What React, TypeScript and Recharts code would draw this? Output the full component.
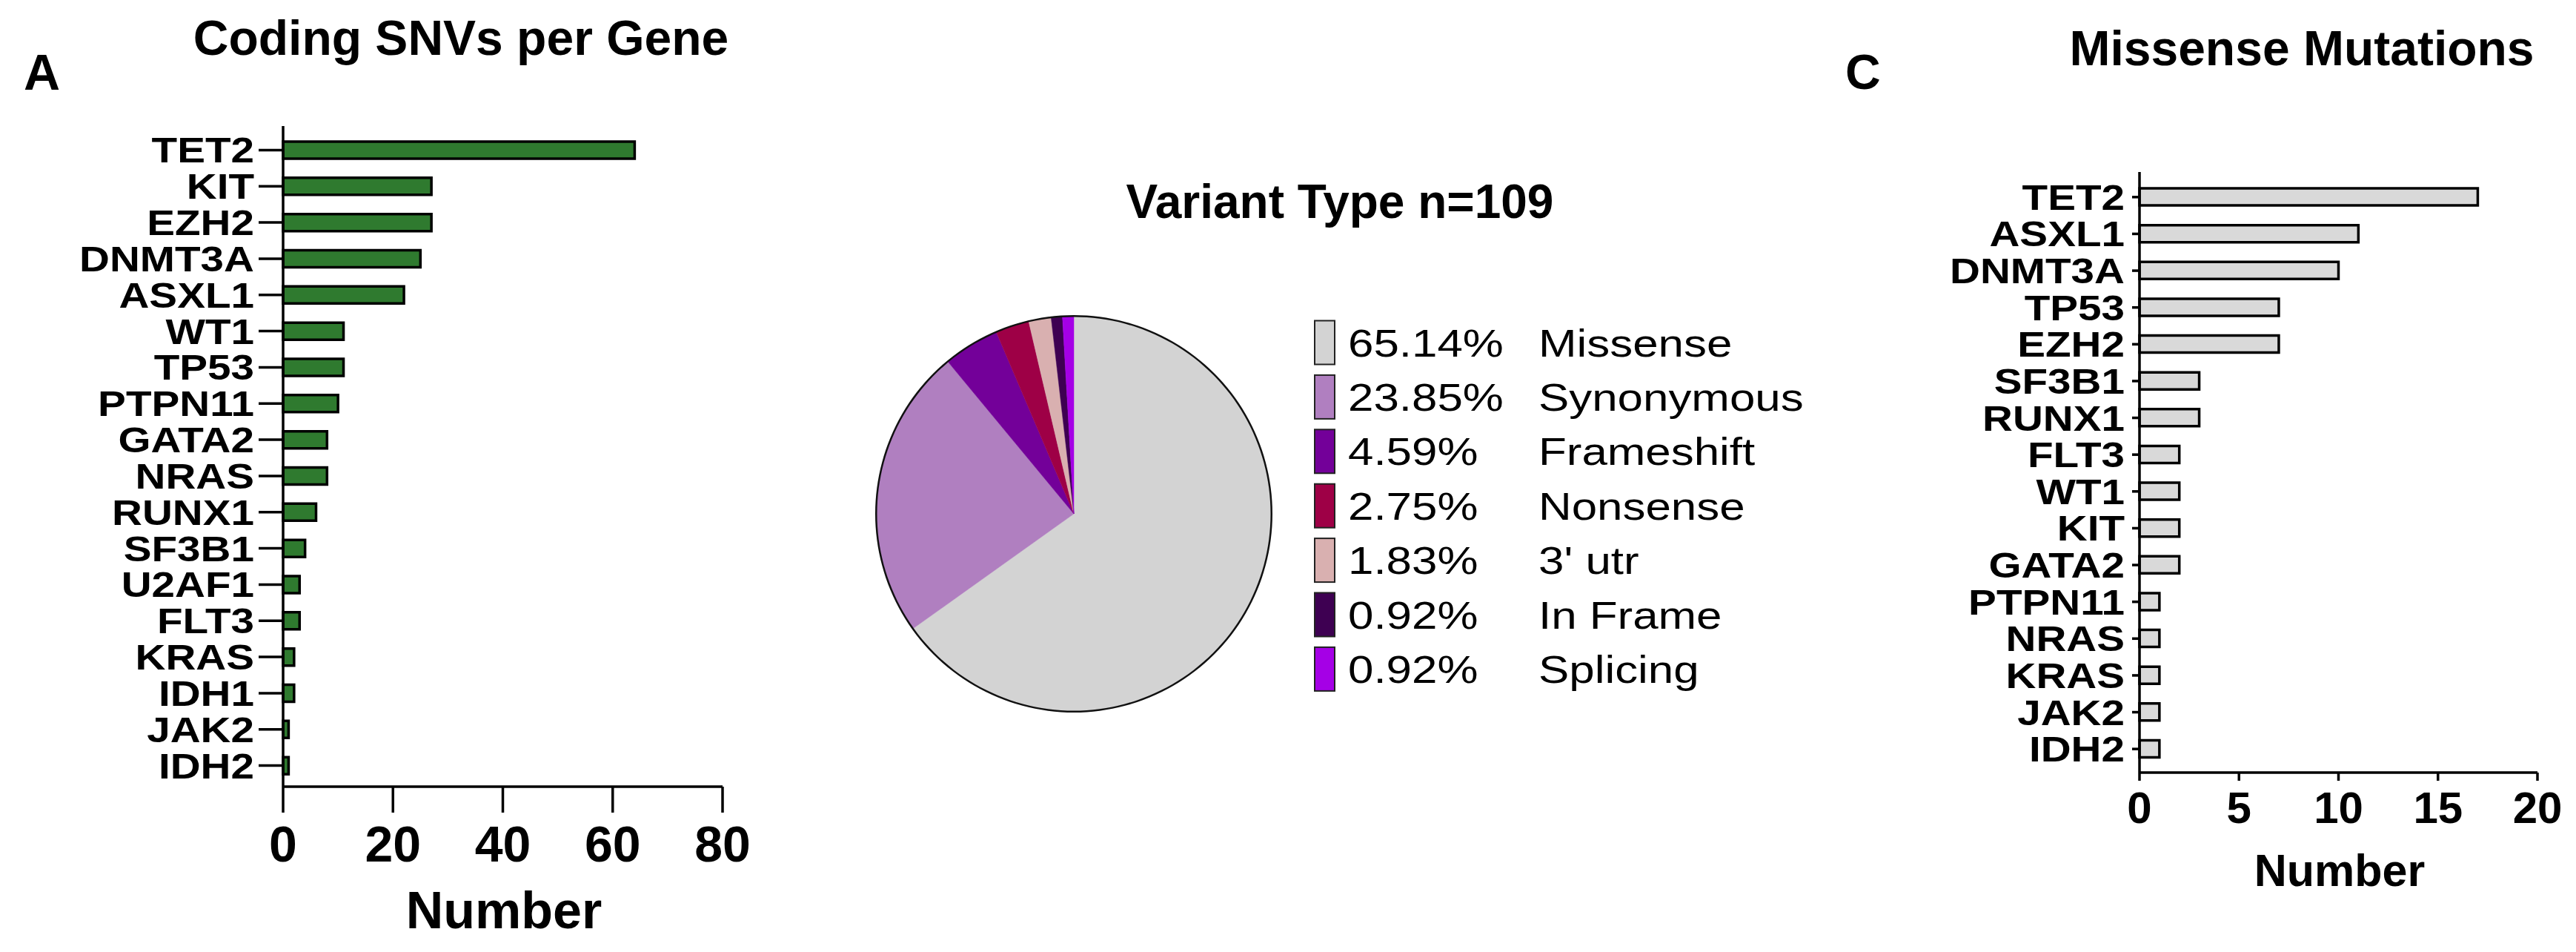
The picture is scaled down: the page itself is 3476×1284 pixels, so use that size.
import { BarChart, Bar, XAxis, YAxis, PieChart, Pie, Cell } from 'recharts'

const FONT = '"Liberation Sans", Arial, Helvetica, sans-serif'

// panel A
const SNV_GENES = ['TET2', 'KIT', 'EZH2', 'DNMT3A', 'ASXL1', 'WT1', 'TP53', 'PTPN11', 'GATA2', 'NRAS', 'RUNX1', 'SF3B1', 'U2AF1', 'FLT3', 'KRAS', 'IDH1', 'JAK2', 'IDH2']
const SNV_COUNTS = [64, 27, 27, 25, 22, 11, 11, 10, 8, 8, 6, 4, 3, 3, 2, 2, 1, 1]
const SNV_TICKS = [0, 20, 40, 60, 80]

// panel B
const VARIANT_TYPES = ['Missense', 'Synonymous', 'Frameshift', 'Nonsense', "3' utr", 'In Frame', 'Splicing']
const VARIANT_COUNTS = [71, 26, 5, 3, 2, 1, 1]
const VARIANT_COLORS = ['#D3D3D3', '#B07FC0', '#730099', '#9E0046', '#D9B0B0', '#3E0052', '#A500E6']
const VARIANT_TOTAL = 109
const OUTLINE = [{ name: 'outline', value: 1 }]

// panel C
const MIS_GENES = ['TET2', 'ASXL1', 'DNMT3A', 'TP53', 'EZH2', 'SF3B1', 'RUNX1', 'FLT3', 'WT1', 'KIT', 'GATA2', 'PTPN11', 'NRAS', 'KRAS', 'JAK2', 'IDH2']
const MIS_COUNTS = [17, 11, 10, 7, 7, 3, 3, 2, 2, 2, 2, 1, 1, 1, 1, 1]
const MIS_TICKS = [0, 5, 10, 15, 20]

const snvData = SNV_GENES.map((g, i) => ({ gene: g, n: SNV_COUNTS[i] }))
const misData = MIS_GENES.map((g, i) => ({ gene: g, n: MIS_COUNTS[i] }))
const pieData = VARIANT_TYPES.map((t, i) => ({ name: t, value: VARIANT_COUNTS[i] }))

const STRETCH = 1.18
const AXIS = { stroke: '#000', strokeWidth: 3.5 }

function GeneTick(props: any) {
  const { x, y, payload } = props
  return (
    <text
      x={0}
      y={0}
      transform={`translate(${x},${y}) scale(${STRETCH},1)`}
      textAnchor="end"
      dy="0.355em"
      fontSize={48}
      fontWeight={700}
      fontFamily={FONT}
      fill="#000"
    >
      {payload.value}
    </text>
  )
}

function Title({ x, y, size, children, anchor = 'middle' }: any) {
  return (
    <text x={x} y={y} fontSize={size} fontWeight={700} fontFamily={FONT} textAnchor={anchor} fill="#000">
      {children}
    </text>
  )
}

export default function App() {
  return (
    <div style={{ position: 'absolute', left: 0, top: 0, width: 3476, height: 1284, background: '#fff', overflow: 'hidden' }}>
      {/* A: coding SNVs per gene */}
      <div style={{ position: 'absolute', left: 0, top: 0 }}>
        <BarChart width={1050} height={1284} layout="vertical" data={snvData}
          margin={{ top: 170, right: 75, bottom: 123, left: 0 }}>
          <XAxis type="number" domain={[0, 80]} ticks={SNV_TICKS} interval={0} height={100}
            axisLine={AXIS} tickLine={AXIS} tickSize={35} tickMargin={18}
            tick={{ fontSize: 68, fontWeight: 700, fill: '#000', fontFamily: FONT }} />
          <YAxis type="category" dataKey="gene" width={382} interval={0}
            padding={{ top: 8, bottom: 4 }}
            axisLine={AXIS} tickLine={AXIS} tickSize={33} tickMargin={6} tick={<GeneTick />} />
          <Bar dataKey="n" fill="#2F7A2F" stroke="#000" strokeWidth={3.5} barSize={23} isAnimationActive={false} />
        </BarChart>
      </div>

      {/* B: variant type pie */}
      <div style={{ position: 'absolute', left: 1149, top: 393 }}>
        <PieChart width={600} height={600} margin={{ top: 0, right: 0, bottom: 0, left: 0 }}>
          <Pie data={pieData} dataKey="value" cx={300} cy={300} outerRadius={267}
            startAngle={90} endAngle={-270} label={false} labelLine={false} isAnimationActive={false}>
            {pieData.map((d, i) => (
              <Cell key={d.name} fill={VARIANT_COLORS[i]} stroke={VARIANT_COLORS[i]} strokeWidth={0.5} />
            ))}
          </Pie>
          <Pie data={OUTLINE} dataKey="value" cx={300} cy={300} innerRadius={265.5} outerRadius={268}
            startAngle={90} endAngle={-270} fill="#111" stroke="none" label={false} labelLine={false}
            isAnimationActive={false} />
        </PieChart>
      </div>

      {/* C: missense mutations */}
      <div style={{ position: 'absolute', left: 2450, top: 0 }}>
        <BarChart width={1026} height={1284} layout="vertical" data={misData}
          margin={{ top: 232, right: 52, bottom: 142, left: 0 }}>
          <XAxis type="number" domain={[0, 20]} ticks={MIS_TICKS} interval={0} height={100}
            axisLine={AXIS} tickLine={AXIS} tickSize={11} tickMargin={14}
            tick={{ fontSize: 60, fontWeight: 700, fill: '#000', fontFamily: FONT }} />
          <YAxis type="category" dataKey="gene" width={437} interval={0}
            padding={{ top: 9, bottom: 7 }}
            axisLine={AXIS} tickLine={AXIS} tickSize={10} tickMargin={10} tick={<GeneTick />} />
          <Bar dataKey="n" fill="#D9D9D9" stroke="#000" strokeWidth={3.5} barSize={23} isAnimationActive={false} />
        </BarChart>
      </div>

      {/* titles, panel letters, axis titles, pie legend */}
      <svg width={3476} height={1284} style={{ position: 'absolute', left: 0, top: 0, pointerEvents: 'none' }}>
        <Title x={32} y={121} size={68} anchor="start">A</Title>
        <Title x={622} y={74} size={66}>Coding SNVs per Gene</Title>
        <Title x={680} y={1252} size={70}>Number</Title>

        <Title x={1808} y={294} size={64}>Variant Type n=109</Title>

        <Title x={2490} y={120} size={66} anchor="start">C</Title>
        <Title x={3106} y={88} size={66}>Missense Mutations</Title>
        <Title x={3157} y={1195} size={61}>Number</Title>

        {VARIANT_TYPES.map((t, i) => {
          const cy = 462 + i * 73.4
          const pct = ((VARIANT_COUNTS[i] / VARIANT_TOTAL) * 100).toFixed(2) + '%'
          return (
            <g key={t}>
              <rect x={1774} y={cy - 29.5} width={27} height={59} fill={VARIANT_COLORS[i]} stroke="#222" strokeWidth={2} />
              <text x={0} y={0} transform={`translate(1819,${cy + 18.6}) scale(1.19,1)`}
                fontSize={52} fontFamily={FONT} fill="#000">{pct}</text>
              <text x={0} y={0} transform={`translate(2076,${cy + 18.6}) scale(1.19,1)`}
                fontSize={52} fontFamily={FONT} fill="#000">{t}</text>
            </g>
          )
        })}
      </svg>
    </div>
  )
}
